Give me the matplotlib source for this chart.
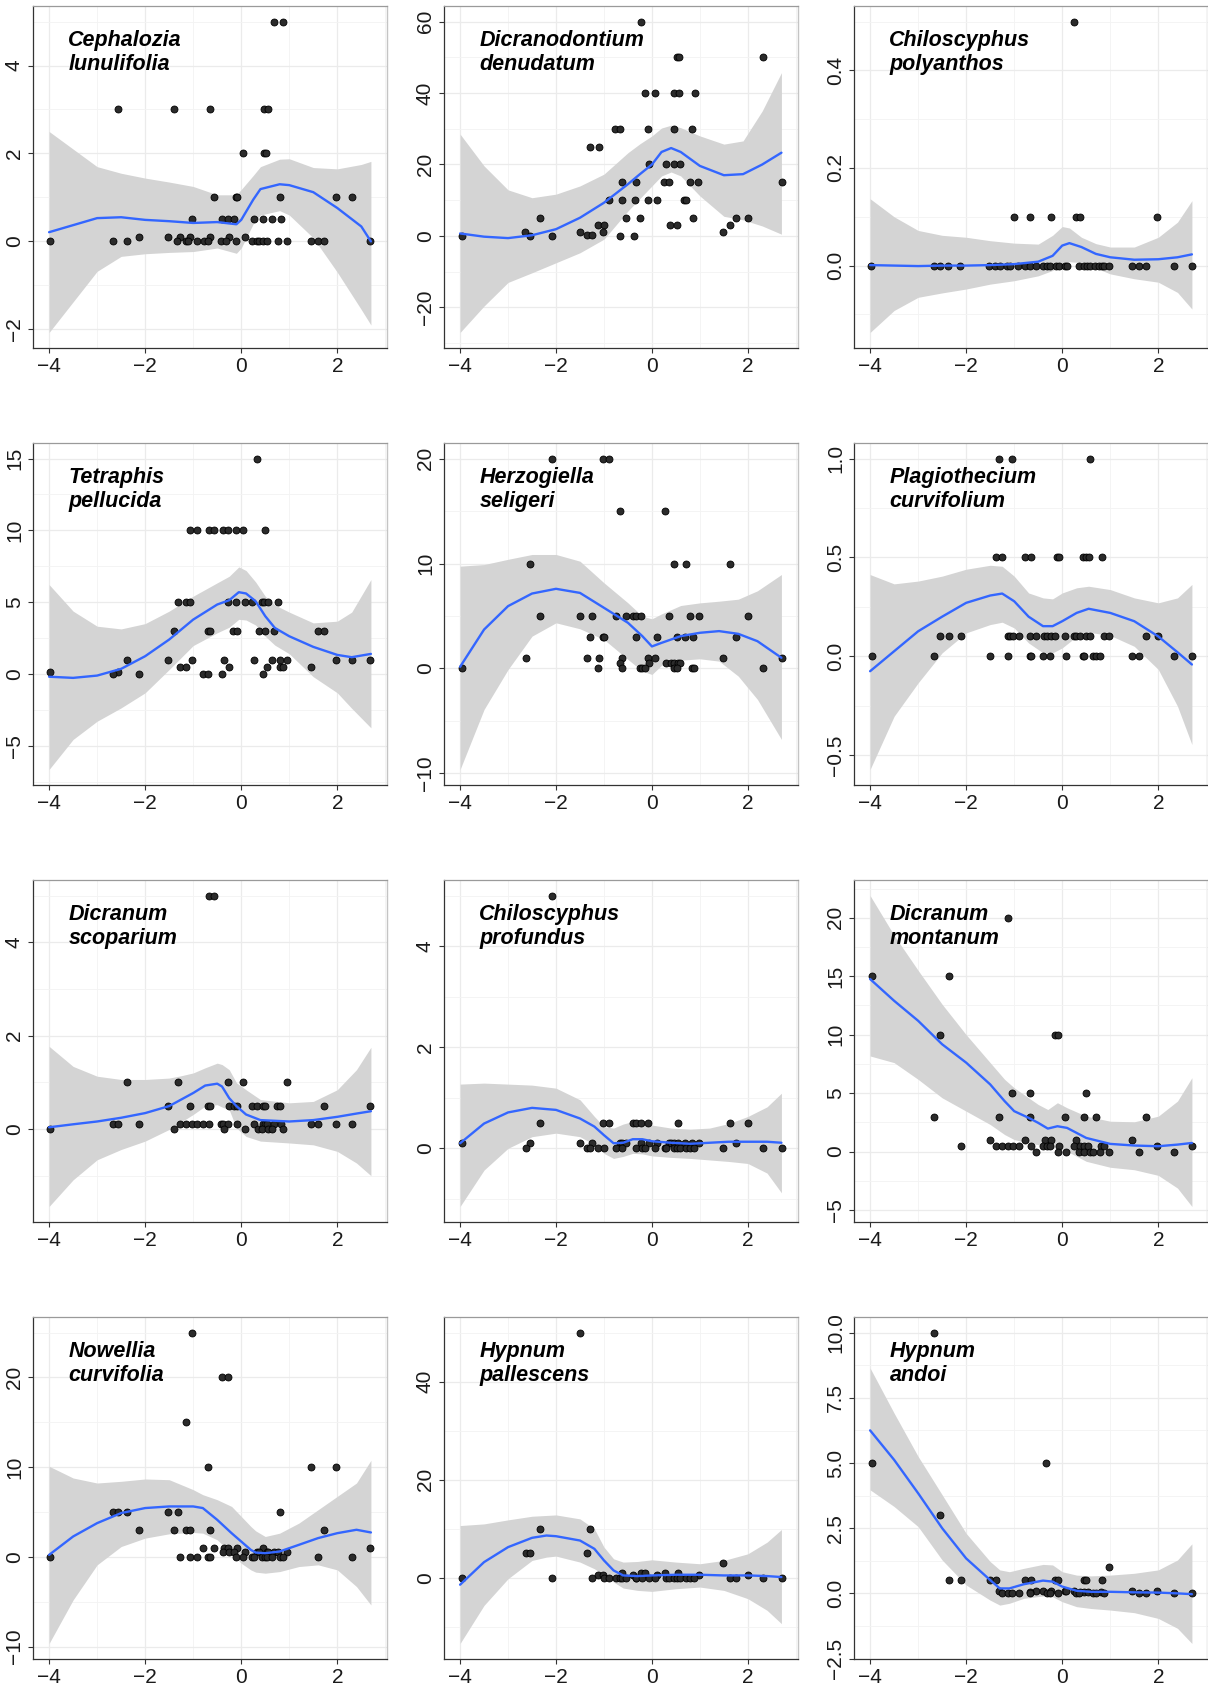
import numpy as np
import matplotlib
matplotlib.use("Agg")
import matplotlib.pyplot as plt
from matplotlib import font_manager

# points per panel, grouped as (y value, [x positions])
CEPH_PTS = [
    (5, [0.68, 0.86]),
    (3, [-2.57, -1.39, -0.66, 0.48, 0.56]),
    (2, [0.03, 0.47, 0.52]),
    (1, [-0.57, -0.1, -0.08, 0.81, 1.98, 2.3]),
    (0.5, [-1.03, -0.39, -0.27, -0.16, 0.27, 0.45, 0.64, 0.82]),
    (0.1, [-2.12, -1.52, -1.27, -1.06, -0.66, -0.26, 0.07]),
    (0, [-3.98, -2.66, -2.37, -1.34, -1.14, -1.11, -0.93, -0.78, -0.7, -0.43, -0.32,
         -0.1, 0.22, 0.32, 0.38, 0.45, 0.54, 0.77, 0.96, 1.45, 1.59, 1.72, 2.69]),
]
CEPH_FX = [-4, -3, -2.5, -2, -1.5, -1, -0.5, -0.1, 0, 0.25, 0.4, 0.8, 1.0, 1.5, 2.0, 2.5, 2.7]
CEPH_FY = [0.21, 0.53, 0.55, 0.49, 0.46, 0.42, 0.44, 0.39, 0.49, 0.95, 1.19, 1.3, 1.28, 1.12, 0.76, 0.34, 0.0]
CEPH_HI = [2.5, 1.7, 1.55, 1.44, 1.35, 1.25, 1.06, 1.06, 1.18, 1.5, 1.7, 1.87, 1.88, 1.68, 1.65, 1.75, 1.82]
CEPH_LO = [-2.07, -0.68, -0.34, -0.28, -0.25, -0.23, -0.15, -0.27, -0.15, 0.4, 0.6, 0.7, 0.6, 0.08, -0.7, -1.55, -1.9]
CEPH_YT = [-2, 0, 2, 4]

DICR_PTS = [
    (60, [-0.22]),
    (50, [0.52, 0.56, 2.32]),
    (40, [-0.14, 0.06, 0.47, 0.57, 0.89]),
    (30, [-0.76, -0.66, -0.08, 0.47, 0.84]),
    (25, [-1.3, -1.1]),
    (20, [-0.06, 0.29, 0.46, 0.58]),
    (15, [-0.63, -0.33, 0.26, 0.35, 0.79, 0.97, 2.71]),
    (10, [-0.9, -0.63, -0.35, -0.08, 0.1, 0.66, 0.71]),
    (5, [-2.34, -0.54, -0.24, 0.86, 1.75, 2.0]),
    (3, [-1.12, -1.0, 0.38, 0.52, 1.62]),
    (1, [-2.64, -1.5, -1.03, 1.48]),
    (0.3, [-1.36, -1.24]),
    (0, [-3.95, -2.54, -2.09, -0.66, -0.38]),
]
DICR_FX = [-4, -3.5, -3, -2.5, -2, -1.5, -1, -0.5, -0.25, 0, 0.2, 0.4, 0.6, 1.0, 1.5, 1.9, 2.3, 2.7]
DICR_FY = [0.7, -0.2, -0.6, 0.2, 1.9, 5.1, 9.3, 14.5, 17.3, 20, 23.5, 24.6, 23.5, 19.6, 17, 17.3, 20, 23.3]
DICR_HI = [28.5, 19.6, 12.9, 10.7, 11.7, 14, 17.3, 23.3, 25.8, 28, 30.2, 31, 30.3, 28, 25.7, 26.6, 35, 45.7]
DICR_LO = [-27, -19.6, -13, -10.3, -7.5, -4.7, -0.9, 7, 10.5, 14, 16.8, 17.9, 16.8, 11.2, 5.5, 4.5, 2.8, 0.5]
DICR_YT = [-20, 0, 20, 40, 60]

CPOL_PTS = [
    (0.5, [0.24]),
    (0.1, [-1.01, -0.68, -0.23, 0.28, 0.38, 1.98]),
    (0, [-3.98, -2.67, -2.55, -2.37, -2.12, -1.53, -1.39, -1.29, -1.15, -1.09, -0.92,
         -0.77, -0.68, -0.55, -0.39, -0.32, -0.25, -0.12, -0.06, 0.06, 0.09, 0.34, 0.45,
         0.51, 0.57, 0.68, 0.77, 0.82, 0.88, 0.97, 1.46, 1.6, 1.74, 2.32, 2.7]),
]
CPOL_FX = [-4, -3.5, -3, -2.5, -2, -1.5, -1, -0.5, -0.2, 0, 0.15, 0.4, 0.7, 1.0, 1.5, 2.0, 2.4, 2.7]
CPOL_FY = [0.001, 0.0, -0.001, 0.0, 0.0, 0.001, 0.003, 0.008, 0.02, 0.041, 0.046, 0.038, 0.024, 0.017, 0.012, 0.013, 0.017, 0.023]
CPOL_HI = [0.137, 0.1, 0.072, 0.062, 0.058, 0.051, 0.046, 0.044, 0.062, 0.08, 0.077, 0.058, 0.045, 0.038, 0.038, 0.058, 0.089, 0.133]
CPOL_LO = [-0.137, -0.092, -0.065, -0.056, -0.048, -0.038, -0.031, -0.021, -0.01, 0.0, 0.008, 0.006, -0.005, -0.017, -0.027, -0.034, -0.055, -0.089]
CPOL_YT = [0.0, 0.2, 0.4]

TETR_PTS = [
    (15, [0.33]),
    (10, [-1.06, -0.92, -0.67, -0.57, -0.37, -0.27, -0.1, 0.04, 0.49]),
    (5, [-1.32, -1.14, -1.06, -0.27, -0.1, 0.07, 0.23, 0.43, 0.48, 0.56, 0.77]),
    (3, [-1.39, -0.7, -0.65, -0.17, -0.09, 0.36, 0.49, 0.68, 1.59, 1.72]),
    (1, [-2.37, -1.52, -1.03, -0.35, 0.26, 0.64, 0.81, 0.95, 1.98, 2.3, 2.69]),
    (0.5, [-1.27, -1.14, -0.26, 0.54, 0.81, 0.86, 1.45]),
    (0.1, [-3.98, -2.57]),
    (0, [-2.67, -2.12, -0.79, -0.69, -0.41, 0.45]),
]
TETR_FX = [-4, -3.5, -3, -2.5, -2, -1.5, -1, -0.5, -0.25, -0.05, 0.1, 0.3, 0.5, 0.7, 1.0, 1.5, 2.0, 2.3, 2.7]
TETR_FY = [-0.2, -0.28, -0.12, 0.35, 1.23, 2.39, 3.78, 4.83, 5.13, 5.69, 5.6, 5.06, 4.02, 3.2, 2.62, 1.88, 1.32, 1.16, 1.39]
TETR_HI = [6.22, 4.37, 3.32, 3.13, 3.5, 4.37, 5.41, 6.34, 6.8, 7.45, 7.2, 6.4, 5.41, 4.8, 4.3, 3.55, 3.67, 4.3, 6.57]
TETR_LO = [-6.66, -4.57, -3.3, -2.37, -1.32, 0.3, 1.97, 2.86, 3.25, 3.8, 3.75, 3.4, 2.62, 2.0, 1.4, -0.2, -1.32, -2.4, -3.76]
TETR_YT = [-5, 0, 5, 10, 15]

HERZ_PTS = [
    (20, [-2.09, -1.03, -0.9]),
    (15, [-0.66, 0.27]),
    (10, [-2.54, 0.46, 0.71, 1.62]),
    (5, [-2.34, -1.5, -1.24, -0.75, -0.54, -0.39, -0.34, -0.23, 0.36, 0.79, 0.98, 2.01]),
    (3, [-1.3, -1.03, -0.99, -0.34, 0.1, 0.52, 0.68, 0.86, 1.75]),
    (1, [-2.63, -1.36, -1.1, -0.63, -0.08, 0.06, 1.48, 2.71]),
    (0.5, [-0.67, -0.06, 0.29, 0.39, 0.46, 0.54, 0.58]),
    (0, [-3.95, -1.12, -0.63, -0.25, -0.21, -0.14, 0.46, 0.52, 0.83, 0.88, 2.32]),
]
HERZ_FX = [-4, -3.5, -3, -2.5, -2, -1.5, -1, -0.5, -0.2, 0, 0.2, 0.6, 1.0, 1.4, 1.8, 2.2, 2.7]
HERZ_FY = [0.16, 3.71, 5.94, 7.14, 7.59, 7.2, 5.78, 4.35, 3.08, 2.1, 2.44, 3.08, 3.4, 3.56, 3.3, 2.6, 1.02]
HERZ_HI = [9.75, 9.9, 10.4, 10.86, 10.86, 10.22, 8.16, 6.25, 4.98, 4.73, 5.2, 6.0, 6.25, 6.41, 6.6, 7.4, 8.95]
HERZ_LO = [-9.62, -3.9, -0.1, 3.08, 4.35, 3.78, 2.76, 0.86, -0.25, -0.57, 0.3, 0.79, 0.92, 0.7, -0.73, -2.95, -6.76]
HERZ_YT = [-10, 0, 10, 20]

PLAG_PTS = [
    (1.0, [-1.32, -1.05, 0.57]),
    (0.5, [-1.38, -1.26, -0.77, -0.64, -0.1, -0.07, 0.44, 0.5, 0.55, 0.83]),
    (0.1, [-2.55, -2.35, -2.1, -1.13, -1.08, -1.02, -0.91, -0.68, -0.55, -0.37, -0.32,
           -0.23, -0.16, 0.05, 0.24, 0.29, 0.36, 0.5, 0.57, 0.87, 0.97, 1.74, 1.99]),
    (0, [-3.97, -2.66, -1.51, -1.13, -0.68, -0.64, -0.39, -0.25, 0.08, 0.43, 0.46,
         0.65, 0.7, 0.79, 1.46, 1.6, 2.32, 2.7]),
]
PLAG_FX = [-4, -3.5, -3, -2.5, -2, -1.5, -1.25, -1, -0.7, -0.4, -0.2, 0, 0.3, 0.55, 1.0, 1.5, 2.0, 2.4, 2.7]
PLAG_FY = [-0.076, 0.025, 0.126, 0.2, 0.27, 0.307, 0.317, 0.278, 0.2, 0.152, 0.152, 0.177, 0.219, 0.24, 0.219, 0.177, 0.1, 0.02, -0.042]
PLAG_HI = [0.413, 0.366, 0.38, 0.405, 0.44, 0.46, 0.455, 0.405, 0.32, 0.295, 0.29, 0.32, 0.346, 0.354, 0.337, 0.295, 0.27, 0.295, 0.363]
PLAG_LO = [-0.573, -0.304, -0.135, 0.017, 0.118, 0.16, 0.172, 0.143, 0.067, 0.017, 0.017, 0.042, 0.1, 0.121, 0.105, 0.05, -0.067, -0.253, -0.447]
PLAG_YT = [-0.5, 0.0, 0.5, 1.0]

DSCO_PTS = [
    (5, [-0.67, -0.57]),
    (1, [-2.37, -1.32, -0.27, 0.03, 0.95]),
    (0.5, [-1.52, -1.06, -0.7, -0.66, -0.26, -0.16, -0.09, 0.23, 0.33, 0.45, 0.49, 0.74, 0.81, 1.73, 2.69]),
    (0.1, [-2.67, -2.57, -2.12, -1.27, -1.14, -1.03, -0.93, -0.79, -0.68, -0.43, -0.38, -0.27,
           -0.09, 0.27, 0.45, 0.5, 0.54, 0.68, 0.82, 1.45, 1.59, 1.98, 2.3]),
    (0, [-3.98, -1.39, -0.35, 0.07, 0.34, 0.43, 0.56, 0.64, 0.86]),
]
DSCO_FX = [-4, -3.5, -3, -2.5, -2, -1.5, -1.25, -1, -0.75, -0.5, -0.4, -0.25, -0.1, 0.1, 0.4, 1.0, 1.5, 2.0, 2.4, 2.7]
DSCO_FY = [0.036, 0.1, 0.16, 0.24, 0.34, 0.49, 0.63, 0.77, 0.93, 0.97, 0.91, 0.66, 0.49, 0.31, 0.19, 0.16, 0.19, 0.26, 0.33, 0.38]
DSCO_HI = [1.77, 1.34, 1.13, 1.06, 1.06, 1.09, 1.14, 1.2, 1.31, 1.41, 1.38, 1.27, 0.99, 0.84, 0.63, 0.56, 0.59, 0.84, 1.27, 1.75]
DSCO_LO = [-1.66, -1.09, -0.66, -0.44, -0.26, -0.01, 0.15, 0.31, 0.49, 0.52, 0.47, 0.41, 0.02, -0.16, -0.26, -0.3, -0.34, -0.48, -0.73, -1.0]
DSCO_YT = [0, 2, 4]

CPRO_PTS = [
    (5, [-2.09]),
    (0.5, [-2.34, -1.03, -0.9, -0.39, -0.34, -0.23, -0.08, 0.55, 1.62, 2.01]),
    (0.1, [-3.95, -2.54, -1.5, -1.24, -0.66, -0.63, -0.54, -0.23, -0.06, 0.1, 0.36, 0.4,
           0.46, 0.54, 0.68, 0.83, 0.98, 1.75]),
    (0, [-2.63, -1.36, -1.3, -1.12, -1.0, -0.75, -0.63, -0.34, -0.21, -0.14, 0.06, 0.27,
         0.29, 0.46, 0.52, 0.58, 0.71, 0.79, 0.88, 1.48, 2.32, 2.71]),
]
CPRO_FX = [-4, -3.5, -3, -2.5, -2, -1.5, -1.2, -1.0, -0.8, -0.6, -0.4, -0.2, 0, 0.4, 0.8, 1.2, 1.6, 2.0, 2.4, 2.7]
CPRO_FY = [0.1, 0.49, 0.71, 0.8, 0.76, 0.59, 0.43, 0.26, 0.1, 0.11, 0.18, 0.18, 0.14, 0.11, 0.09, 0.11, 0.13, 0.13, 0.13, 0.11]
CPRO_HI = [1.27, 1.29, 1.27, 1.25, 1.19, 0.96, 0.63, 0.43, 0.4, 0.48, 0.53, 0.49, 0.46, 0.4, 0.38, 0.4, 0.49, 0.63, 0.82, 1.09]
CPRO_LO = [-1.15, -0.43, 0.0, 0.23, 0.3, 0.23, 0.07, -0.1, -0.2, -0.16, -0.1, -0.11, -0.15, -0.18, -0.2, -0.23, -0.26, -0.3, -0.49, -0.88]
CPRO_YT = [0, 2, 4]

DMON_PTS = [
    (20, [-1.12]),
    (15, [-3.97, -2.35]),
    (10, [-2.55, -0.16, -0.08]),
    (5, [-1.05, -0.68, 0.5]),
    (3, [-2.66, -1.32, -0.68, 0.05, 0.46, 0.7, 1.74]),
    (1, [-1.51, -0.77, -0.35, -0.23, 0.28, 1.46]),
    (0.5, [-2.1, -1.38, -1.26, -1.13, -1.02, -0.91, -0.64, -0.39, -0.32, -0.25, -0.07,
           0.24, 0.38, 0.45, 0.54, 0.81, 0.87, 1.98, 2.7]),
    (0, [-0.55, -0.09, 0.08, 0.34, 0.46, 0.57, 0.65, 0.79, 0.97, 1.6, 2.32]),
]
DMON_FX = [-4, -3.5, -3, -2.5, -2, -1.5, -1.2, -1, -0.7, -0.5, -0.3, -0.1, 0.1, 0.5, 1.0, 1.5, 2.0, 2.4, 2.7]
DMON_FY = [14.76, 12.9, 11.19, 9.18, 7.61, 5.75, 4.32, 3.46, 2.89, 2.46, 1.97, 2.17, 2.03, 1.17, 0.66, 0.52, 0.46, 0.6, 0.74]
DMON_HI = [21.9, 18.5, 15.5, 12.6, 10.0, 7.61, 6.18, 5.46, 4.6, 4.03, 3.6, 4.18, 3.75, 3.03, 2.6, 2.55, 3.03, 4.32, 6.32]
DMON_LO = [8.18, 7.61, 6.18, 4.6, 3.46, 2.32, 1.46, 1.03, 0.74, 0.6, 0.31, 0.31, 0.03, -0.83, -1.34, -1.55, -2.03, -3.12, -4.69]
DMON_YT = [-5, 0, 5, 10, 15, 20]

NOWE_PTS = [
    (25, [-1.03]),
    (20, [-0.41, -0.27]),
    (15, [-1.14]),
    (10, [-0.69, 1.45, 1.98]),
    (5, [-2.67, -2.57, -2.37, -1.52, -1.32, 0.81]),
    (3, [-2.12, -1.39, -1.14, -1.06, -0.66, 1.73]),
    (1, [-0.79, -0.57, -0.35, -0.27, -0.09, 0.45, 2.69]),
    (0.5, [-0.38, -0.26, -0.16, 0.07, 0.33, 0.37, 0.54, 0.56, 0.68, 0.77, 0.95]),
    (0, [-3.98, -1.27, -1.06, -0.92, -0.7, -0.66, -0.1, 0.04, 0.23, 0.27, 0.43, 0.5,
         0.54, 0.64, 0.81, 0.86, 1.59, 2.3]),
]
NOWE_FX = [-4, -3.5, -3, -2.5, -2, -1.5, -1, -0.8, -0.5, -0.2, 0, 0.2, 0.3, 0.5, 0.8, 1.2, 1.6, 2.0, 2.4, 2.7]
NOWE_FY = [0.22, 2.27, 3.76, 4.88, 5.44, 5.62, 5.62, 5.44, 4.13, 2.64, 1.71, 0.78, 0.48, 0.41, 0.6, 1.34, 2.09, 2.64, 3.02, 2.72]
NOWE_HI = [10.1, 8.79, 8.23, 8.42, 8.68, 8.6, 7.49, 6.93, 6.37, 5.62, 4.51, 3.39, 2.9, 2.27, 2.64, 3.76, 5.25, 6.74, 8.23, 10.76]
NOWE_LO = [-9.65, -4.8, -0.89, 1.15, 2.09, 2.57, 2.72, 2.64, 1.9, 0.41, -0.71, -1.45, -1.7, -1.82, -1.64, -1.08, -0.89, -1.45, -3.31, -5.36]
NOWE_YT = [-10, 0, 10, 20]

HPAL_PTS = [
    (50, [-1.5]),
    (10, [-2.34, -1.3]),
    (5, [-2.63, -2.54, -1.36]),
    (3, [1.48]),
    (1, [-0.63, -0.23, -0.14, 0.27, 0.55]),
    (0.5, [-1.12, -1.03, -0.39, 0.1, 0.98, 2.01]),
    (0, [-3.95, -2.09, -1.24, -0.99, -0.9, -0.75, -0.66, -0.63, -0.54, -0.34, -0.33, -0.21,
         -0.06, 0.06, 0.29, 0.36, 0.46, 0.52, 0.58, 0.71, 0.79, 0.88, 1.62, 1.75, 2.32, 2.71]),
]
HPAL_FX = [-4, -3.5, -3, -2.5, -2.2, -2, -1.5, -1.2, -1.0, -0.8, -0.6, -0.3, 0, 0.5, 1.0, 1.5, 2.0, 2.4, 2.7]
HPAL_FY = [-1.42, 3.19, 6.24, 8.14, 8.61, 8.47, 7.59, 5.9, 3.53, 1.49, 0.47, 0.34, 0.47, 0.61, 0.61, 0.47, 0.47, 0.34, 0.14]
HPAL_HI = [10.64, 10.98, 11.8, 12.54, 12.7, 12.81, 12.0, 9.97, 6.24, 3.86, 3.19, 3.32, 3.66, 3.19, 2.85, 3.53, 4.88, 7.25, 9.83]
HPAL_LO = [-13.4, -5.63, -0.2, 3.53, 4.2, 4.41, 3.19, 1.83, 0.61, -0.88, -2.1, -2.58, -2.78, -2.24, -1.9, -2.58, -4.27, -6.64, -9.36]
HPAL_YT = [0, 20, 40]

HAND_PTS = [
    (10, [-2.66]),
    (5, [-3.97, -0.34]),
    (3, [-2.55]),
    (1, [0.97]),
    (0.5, [-2.35, -2.1, -1.51, -1.38, -0.77, -0.64, -0.16, -0.09, 0.46, 0.5, 0.83]),
    (0.1, [-1.32, -0.55, -0.39, -0.23, 0.05, 0.08, 0.24, 1.46, 1.98]),
    (0.05, [-0.68, 0.38, 0.45, 0.54, 0.81]),
    (0, [-1.26, -1.13, -1.05, -0.91, -0.68, -0.32, -0.25, -0.09, 0.28, 0.34, 0.65, 0.7,
         0.87, 1.6, 1.74, 2.32, 2.7]),
]
HAND_FX = [-4, -3.5, -3, -2.5, -2, -1.5, -1.3, -1.1, -0.8, -0.4, -0.2, 0, 0.3, 0.6, 1.0, 1.5, 2.0, 2.4, 2.7]
HAND_FY = [6.25, 5.12, 3.84, 2.5, 1.34, 0.51, 0.19, 0.19, 0.35, 0.49, 0.45, 0.26, 0.1, 0.06, 0.06, 0.04, 0.03, 0.0, -0.03]
HAND_HI = [8.64, 6.91, 5.25, 3.78, 2.3, 1.22, 0.9, 0.83, 0.96, 1.11, 1.09, 0.83, 0.7, 0.67, 0.7, 0.77, 0.9, 1.28, 1.9]
HAND_LO = [3.97, 3.33, 2.56, 1.28, 0.32, -0.26, -0.45, -0.38, -0.19, -0.1, -0.13, -0.32, -0.51, -0.58, -0.64, -0.74, -0.96, -1.34, -1.92]
HAND_YT = [-2.5, 0.0, 2.5, 5.0, 7.5, 10.0]

PANELS = [
    ("Cephalozia\nlunulifolia", CEPH_PTS, CEPH_FX, CEPH_FY, CEPH_LO, CEPH_HI, CEPH_YT),
    ("Dicranodontium\ndenudatum", DICR_PTS, DICR_FX, DICR_FY, DICR_LO, DICR_HI, DICR_YT),
    ("Chiloscyphus\npolyanthos", CPOL_PTS, CPOL_FX, CPOL_FY, CPOL_LO, CPOL_HI, CPOL_YT),
    ("Tetraphis\npellucida", TETR_PTS, TETR_FX, TETR_FY, TETR_LO, TETR_HI, TETR_YT),
    ("Herzogiella\nseligeri", HERZ_PTS, HERZ_FX, HERZ_FY, HERZ_LO, HERZ_HI, HERZ_YT),
    ("Plagiothecium\ncurvifolium", PLAG_PTS, PLAG_FX, PLAG_FY, PLAG_LO, PLAG_HI, PLAG_YT),
    ("Dicranum\nscoparium", DSCO_PTS, DSCO_FX, DSCO_FY, DSCO_LO, DSCO_HI, DSCO_YT),
    ("Chiloscyphus\nprofundus", CPRO_PTS, CPRO_FX, CPRO_FY, CPRO_LO, CPRO_HI, CPRO_YT),
    ("Dicranum\nmontanum", DMON_PTS, DMON_FX, DMON_FY, DMON_LO, DMON_HI, DMON_YT),
    ("Nowellia\ncurvifolia", NOWE_PTS, NOWE_FX, NOWE_FY, NOWE_LO, NOWE_HI, NOWE_YT),
    ("Hypnum\npallescens", HPAL_PTS, HPAL_FX, HPAL_FY, HPAL_LO, HPAL_HI, HPAL_YT),
    ("Hypnum\nandoi", HAND_PTS, HAND_FX, HAND_FY, HAND_LO, HAND_HI, HAND_YT),
]
X_TICKS = [-4, -2, 0, 2]

# layout in pixels of the 1208x1686 image
W, H = 1208, 1686
COL_LEFT = [33, 444, 854]
ROW_TOP = [6, 443, 880, 1317]
PANEL_W, PANEL_H = 354, 342

installed = {f.name for f in font_manager.fontManager.ttflist}
narrow = "Liberation Sans Narrow" in installed
title_font = "Liberation Sans Narrow" if narrow else "Liberation Sans"
title_size = 18 if narrow else 15.5
plt.rcParams["font.family"] = ["Liberation Sans", "DejaVu Sans"]


def expand(lo, hi, frac=0.05):
    pad = (hi - lo) * frac
    return lo - pad, hi + pad


def fmt_tick(t, decimals):
    s = f"{t:.1f}" if decimals else f"{int(round(t))}"
    return s.replace("-", "\u2212")


fig = plt.figure(figsize=(W / 100, H / 100), dpi=100)

for i, (name, pts, fx, fy, lo, hi, yt) in enumerate(PANELS):
    r, c = divmod(i, 3)
    left = COL_LEFT[c] / W
    bottom = 1 - (ROW_TOP[r] + PANEL_H) / H
    ax = fig.add_axes([left, bottom, PANEL_W / W, PANEL_H / H])

    px = np.concatenate([np.array(xs, dtype=float) for _, xs in pts])
    py = np.concatenate([np.full(len(xs), y, dtype=float) for y, xs in pts])

    ax.fill_between(fx, lo, hi, color="#d4d4d4", lw=0, zorder=1)
    ax.plot(px, py, "o", ms=5.0, mfc="#2b2b2b", mec="black", mew=0.6, zorder=3)
    ax.plot(fx, fy, color="#3366FF", lw=1.7, zorder=4,
            solid_capstyle="round", solid_joinstyle="round")

    # ticks first: set_ticks widens the view, the limits are fixed afterwards
    step_y = yt[1] - yt[0]
    decimals = any(abs(t - round(t)) > 1e-9 for t in yt)
    ax.set_xticks(X_TICKS)
    ax.set_xticklabels([fmt_tick(t, False) for t in X_TICKS])
    ax.set_xticks([t + 1 for t in [-6] + X_TICKS], minor=True)
    ax.set_yticks(yt)
    ax.set_yticklabels([fmt_tick(t, decimals) for t in yt])
    ax.set_yticks([yt[0] - step_y / 2] + [t + step_y / 2 for t in yt], minor=True)

    ax.set_xlim(*expand(min(px.min(), fx[0]), max(px.max(), fx[-1])))
    ax.set_ylim(*expand(min(py.min(), min(lo)), max(py.max(), max(hi))))

    ax.grid(which="major", color="#ebebeb", lw=0.9, zorder=0)
    ax.grid(which="minor", color="#f3f3f3", lw=0.6, zorder=0)
    ax.set_axisbelow(True)

    ax.tick_params(which="major", length=3.5, width=0.8, color="#333333",
                   labelsize=15, labelcolor="#1a1a1a", pad=3)
    ax.tick_params(which="minor", length=0)
    ax.tick_params(axis="y", labelrotation=90)
    for lab in ax.get_yticklabels():
        lab.set_va("center")

    ax.spines["left"].set_color("#333333")
    ax.spines["bottom"].set_color("#333333")
    ax.spines["left"].set_linewidth(0.9)
    ax.spines["bottom"].set_linewidth(0.9)
    ax.spines["top"].set_color("#9a9a9a")
    ax.spines["right"].set_color("#c4c4c4")
    ax.spines["top"].set_linewidth(0.9)
    ax.spines["right"].set_linewidth(1.0)

    ax.text(0.10, 0.93, name, transform=ax.transAxes, ha="left", va="top",
            fontsize=title_size, fontweight="bold", fontstyle="italic",
            family=[title_font, "DejaVu Sans"], linespacing=1.22, color="black",
            zorder=5)

fig.savefig("out.png", dpi=100)
